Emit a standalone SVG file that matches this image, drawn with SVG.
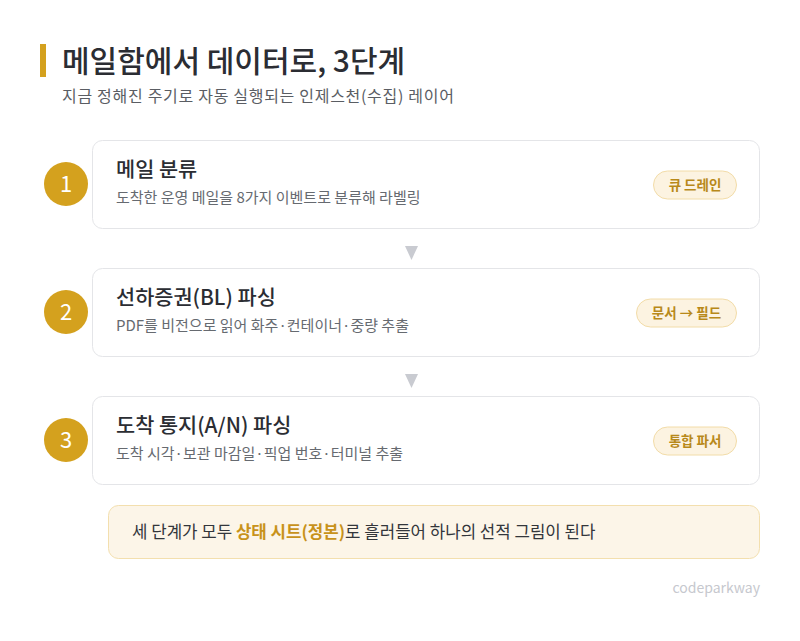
<svg xmlns="http://www.w3.org/2000/svg" width="800" height="641" viewBox="0 0 800 641">
<style>
text{font-family:"Noto Sans CJK KR","Noto Sans",sans-serif}
.card{fill:#fff;stroke:#e4e5e8;stroke-width:1}
.num{fill:#d4a11e}
.numt{fill:#fff;font-size:22px;text-anchor:middle}
.ct{fill:#2b2d33;font-size:20.8px;font-weight:500}
.cs{fill:#666a70;font-size:15px}
.pill{fill:#fcf3e1;stroke:#f2dca8;stroke-width:1}
.pt{fill:#b8891a;font-size:13.5px;font-weight:600;text-anchor:middle}
.arr{fill:#c9cbd1}
</style>
<rect width="800" height="641" fill="#fff"/>
<g id="header">
<rect x="40" y="44" width="6" height="33" fill="#d4a11e"/>
<text x="62" y="72" font-size="30" font-weight="500" fill="#2b2d33">메일함에서 데이터로, 3단계</text>
<text x="62" y="102" font-size="16" letter-spacing="0.7" fill="#5a5d63">지금 정해진 주기로 자동 실행되는 인제스천(수집) 레이어</text>
</g>
<g id="connectors">
<polygon class="arr" points="405,246 418,246 411.5,260"/>
<polygon class="arr" points="405,374 418,374 411.5,388"/>
</g>
<g id="step1">
<rect class="card" x="92.5" y="140.5" width="667" height="88" rx="10"/>
<circle class="num" cx="66" cy="184" r="22"/>
<text class="numt" x="66" y="192">1</text>
<text class="ct" x="116" y="177">메일 분류</text>
<text class="cs" x="116" y="203">도착한 운영 메일을 8가지 이벤트로 분류해 라벨링</text>
<rect class="pill" x="653.5" y="171" width="83" height="28" rx="14"/>
<text class="pt" x="695" y="190">큐 드레인</text>
</g>
<g id="step2">
<rect class="card" x="92.5" y="268.5" width="667" height="88" rx="10"/>
<circle class="num" cx="66" cy="312" r="22"/>
<text class="numt" x="66" y="320">2</text>
<text class="ct" x="116" y="305">선하증권(BL) 파싱</text>
<text class="cs" x="116" y="331">PDF를 비전으로 읽어 화주·컨테이너·중량 추출</text>
<rect class="pill" x="636.5" y="299" width="100" height="28" rx="14"/>
<text class="pt" x="686.5" y="318">문서 → 필드</text>
</g>
<g id="step3">
<rect class="card" x="92.5" y="396.5" width="667" height="88" rx="10"/>
<circle class="num" cx="66" cy="440" r="22"/>
<text class="numt" x="66" y="448">3</text>
<text class="ct" x="116" y="433">도착 통지(A/N) 파싱</text>
<text class="cs" x="116" y="459">도착 시각·보관 마감일·픽업 번호·터미널 추출</text>
<rect class="pill" x="653.5" y="427" width="83" height="28" rx="14"/>
<text class="pt" x="695" y="446">통합 파서</text>
</g>
<g id="note">
<rect x="108.5" y="505.5" width="651" height="53" rx="10" fill="#fcf5e8" stroke="#f3dfae"/>
<text x="132" y="538" font-size="16.8" fill="#33363b">세 단계가 모두 <tspan fill="#c8921a" font-weight="700">상태 시트(정본)</tspan>로 흘러들어 하나의 선적 그림이 된다</text>
</g>
<text x="760" y="593" font-size="14" fill="#c6c8ce" text-anchor="end">codeparkway</text>
</svg>
